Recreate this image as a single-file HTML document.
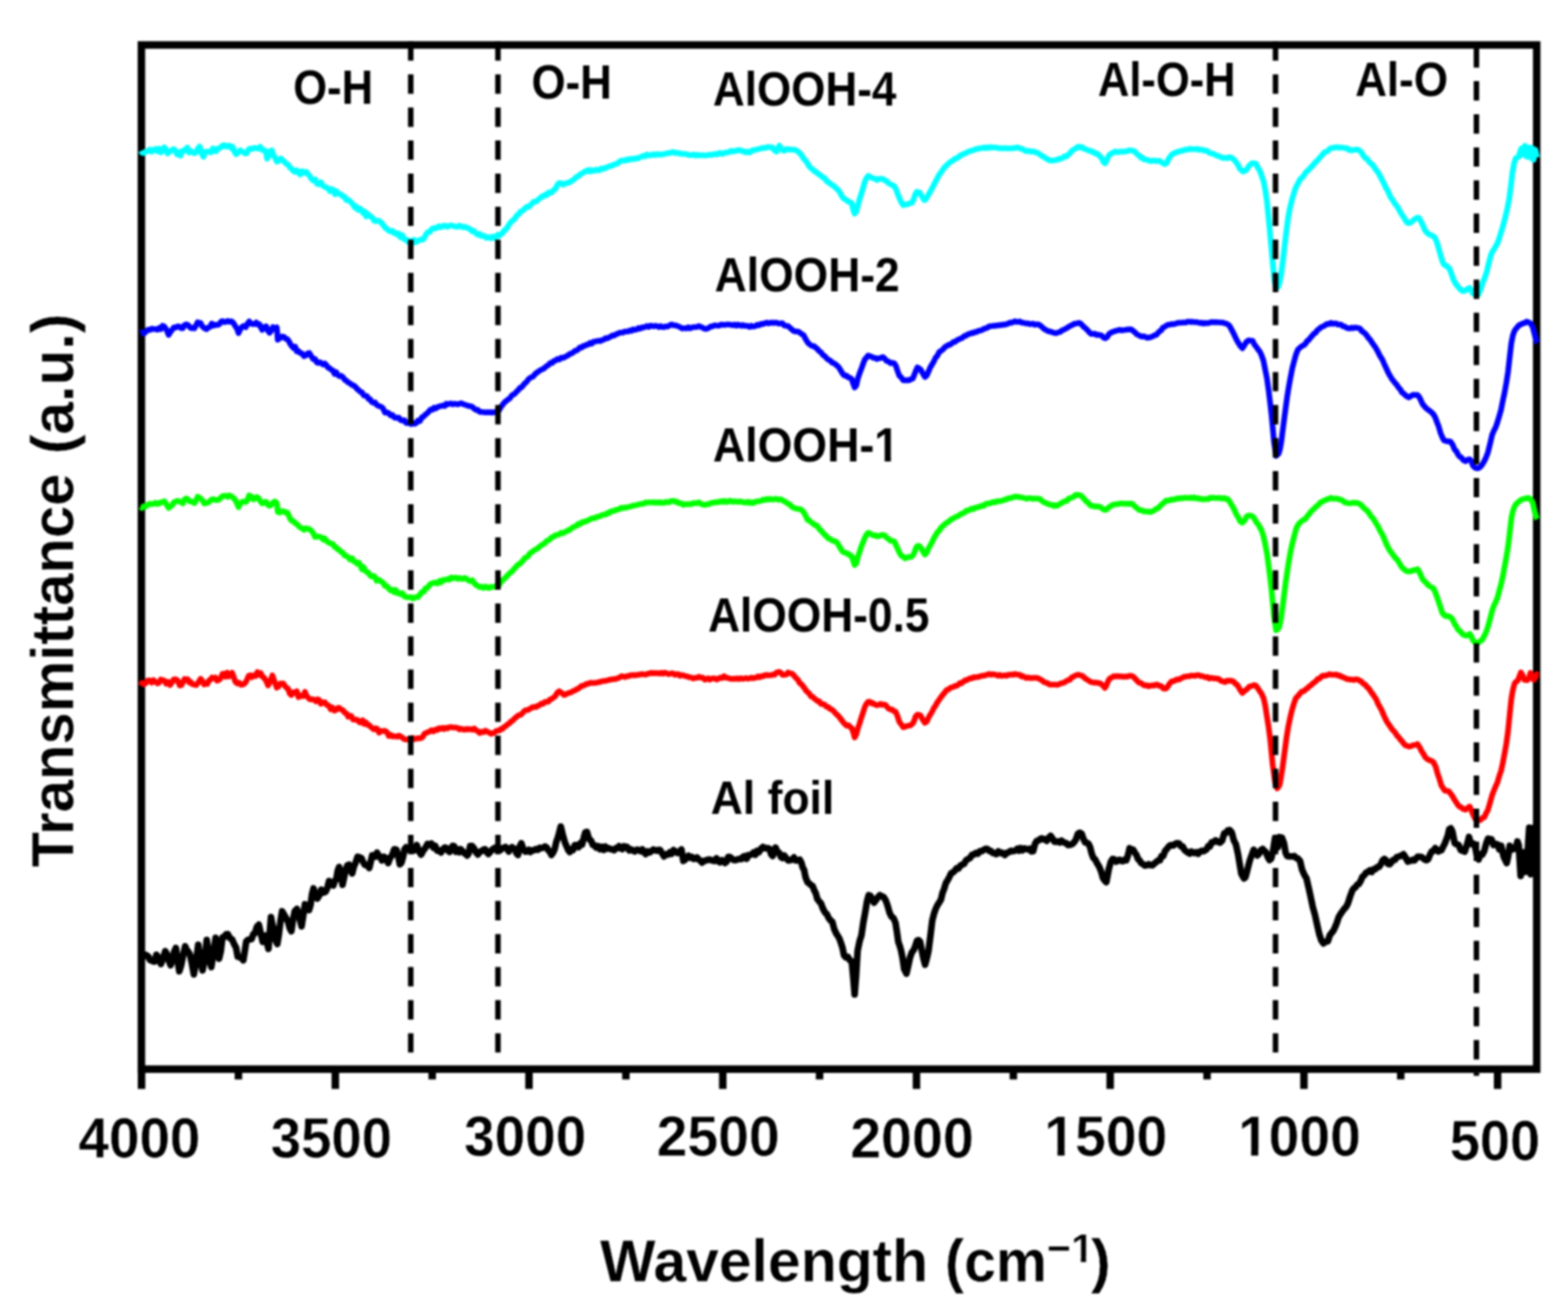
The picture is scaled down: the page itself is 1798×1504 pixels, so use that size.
<!DOCTYPE html>
<html lang="en">
<head>
<meta charset="utf-8">
<title>FTIR spectra</title>
<style>
html,body{margin:0;padding:0;background:#fff;}
body{width:1798px;height:1504px;overflow:hidden;}
svg{display:block;filter:blur(1.0px);}
text{font-family:"Liberation Sans",sans-serif;font-weight:bold;fill:#000;}
.c{fill:none;stroke-linejoin:round;stroke-linecap:butt;}
.d{fill:none;stroke:#000;stroke-width:6.3;stroke-dasharray:22.2 15.7;}
.t{stroke:#000;stroke-width:8.6;}
.lab{font-size:50px;}
.tick{font-size:64px;stroke:#fff;stroke-width:0.5px;}
.ttl{font-size:68px;stroke:#fff;stroke-width:0.4px;}
</style>
</head>
<body>
<svg width="1798" height="1504" viewBox="0 0 1798 1504">
<rect x="0" y="0" width="1798" height="1504" fill="#fff"/>
<rect x="162.15" y="51.55" width="1599.95" height="1174.05" fill="none" stroke="#000" stroke-width="8.6"/>
<line class="t" x1="162.3" y1="1225.6" x2="162.3" y2="1248.3"/>
<line class="t" x1="384.5" y1="1225.6" x2="384.5" y2="1248.3"/>
<line class="t" x1="606.6" y1="1225.6" x2="606.6" y2="1248.3"/>
<line class="t" x1="828.8" y1="1225.6" x2="828.8" y2="1248.3"/>
<line class="t" x1="1050.9" y1="1225.6" x2="1050.9" y2="1248.3"/>
<line class="t" x1="1273.0" y1="1225.6" x2="1273.0" y2="1248.3"/>
<line class="t" x1="1495.2" y1="1225.6" x2="1495.2" y2="1248.3"/>
<line class="t" x1="1717.3" y1="1225.6" x2="1717.3" y2="1248.3"/>
<line class="t" x1="273.4" y1="1225.6" x2="273.4" y2="1237.4"/>
<line class="t" x1="495.6" y1="1225.6" x2="495.6" y2="1237.4"/>
<line class="t" x1="717.7" y1="1225.6" x2="717.7" y2="1237.4"/>
<line class="t" x1="939.8" y1="1225.6" x2="939.8" y2="1237.4"/>
<line class="t" x1="1162.0" y1="1225.6" x2="1162.0" y2="1237.4"/>
<line class="t" x1="1384.1" y1="1225.6" x2="1384.1" y2="1237.4"/>
<line class="t" x1="1606.2" y1="1225.6" x2="1606.2" y2="1237.4"/>
<polyline class="c" stroke="#000000" stroke-width="7.6" points="161.8,1098.7 162.2,1097.5 164.1,1096.8 166.1,1094.3 168.0,1095.1 170.0,1096.4 172.0,1100.5 173.9,1101.3 175.7,1102.1 177.5,1102.2 179.3,1094.5 181.1,1097.0 182.8,1098.8 184.5,1105.0 187.0,1098.6 189.5,1090.3 191.5,1093.9 193.6,1101.1 195.6,1106.5 197.6,1101.0 199.7,1091.0 201.7,1086.7 203.6,1100.8 205.6,1113.4 207.8,1106.3 210.1,1094.8 212.3,1084.8 214.1,1088.8 216.0,1091.2 217.8,1094.3 220.0,1104.5 222.3,1116.9 224.8,1102.7 227.3,1083.1 229.8,1101.9 232.3,1112.3 234.7,1099.4 237.1,1077.5 238.8,1089.2 240.6,1102.5 242.3,1108.6 244.8,1091.7 247.3,1075.0 249.2,1088.7 251.2,1098.9 253.2,1090.4 255.1,1074.6 257.1,1074.3 259.2,1071.0 261.2,1070.9 263.7,1075.4 266.2,1076.9 268.4,1082.2 270.7,1086.3 272.6,1096.7 274.6,1097.3 276.8,1098.0 279.0,1100.8 280.7,1090.4 282.4,1079.1 284.4,1077.4 286.5,1076.8 288.5,1076.5 290.4,1071.0 292.4,1069.7 294.6,1062.4 296.8,1060.1 299.0,1069.9 301.3,1079.7 303.0,1075.0 304.6,1072.4 306.2,1081.0 307.9,1087.7 310.7,1051.2 312.5,1060.6 314.4,1065.8 316.2,1078.3 318.0,1082.1 319.8,1070.8 321.7,1055.4 323.5,1044.7 326.0,1048.9 328.5,1053.3 330.4,1057.1 332.2,1063.9 334.1,1067.5 336.0,1054.2 338.0,1044.5 340.5,1042.1 343.0,1050.6 345.8,1061.8 347.8,1049.1 349.7,1036.6 352.0,1039.5 354.4,1043.3 356.1,1037.4 357.8,1025.0 359.5,1018.4 361.7,1027.4 363.9,1029.9 366.2,1026.2 368.4,1019.8 370.9,1023.2 373.4,1022.2 375.4,1017.9 377.3,1010.0 379.8,1012.0 382.3,1015.0 384.0,1009.4 385.6,1008.1 387.2,998.4 388.9,993.9 390.8,1003.8 392.8,1014.2 394.8,1004.8 396.7,996.2 398.4,991.9 400.1,991.2 402.0,997.6 403.9,1001.2 405.8,993.4 407.8,988.8 410.0,982.1 412.3,982.9 414.5,983.7 416.4,988.3 418.4,991.4 420.9,991.5 423.4,995.0 425.1,988.0 426.8,980.5 428.6,981.3 430.5,982.1 432.3,977.4 434.2,980.7 436.0,982.5 437.9,986.3 440.1,982.1 442.3,983.4 445.1,989.3 447.4,983.2 449.6,980.6 452.1,973.6 454.6,974.0 456.6,981.2 458.5,990.7 460.4,988.8 462.3,981.8 464.0,973.3 465.7,971.4 467.6,973.2 469.6,974.1 471.6,975.3 473.5,975.4 475.7,974.2 477.9,968.8 480.4,975.9 482.9,979.7 485.4,975.0 487.9,971.8 490.2,967.5 492.4,968.6 494.6,966.9 496.9,971.7 499.1,969.7 501.3,975.2 503.5,974.8 505.7,977.2 508.0,973.4 510.2,971.5 512.0,972.4 513.9,975.3 515.7,976.6 517.4,972.0 519.1,969.6 520.9,970.2 522.8,976.3 524.6,973.7 526.5,976.9 528.3,973.6 530.2,975.6 532.1,977.8 533.9,978.9 535.8,980.7 537.4,978.3 539.1,969.8 541.3,969.8 543.5,972.5 545.8,976.9 548.0,979.4 550.1,976.6 552.3,975.5 554.4,973.9 556.3,973.5 558.1,976.8 560.0,978.9 562.2,976.4 564.5,973.9 566.7,972.3 568.5,971.4 570.4,975.4 572.2,972.3 574.1,974.2 575.9,972.3 577.8,972.0 579.7,970.9 581.5,973.3 583.4,976.1 585.2,973.2 587.1,971.2 588.9,972.8 590.6,973.2 592.3,978.3 594.0,980.0 595.9,970.5 597.8,966.7 600.0,973.1 602.3,976.2 604.3,976.1 606.3,974.2 608.3,976.6 610.3,974.8 612.3,974.6 614.5,973.4 616.8,974.2 619.0,971.9 621.2,972.2 623.1,971.5 624.9,970.4 626.8,971.5 628.6,974.6 630.5,976.4 632.3,980.0 634.2,977.5 636.0,973.5 637.9,965.0 639.6,960.4 641.3,954.2 643.0,947.5 645.4,957.4 647.9,966.0 649.7,970.1 651.6,974.6 653.4,976.7 655.3,973.5 657.1,974.4 659.0,968.9 661.2,968.9 663.5,971.1 665.7,966.5 667.5,968.2 669.4,960.3 671.2,954.2 673.0,953.7 675.4,961.5 677.9,964.0 679.8,968.5 681.6,969.0 683.5,971.6 685.7,969.9 688.0,973.5 690.2,970.8 692.4,974.3 694.4,970.5 696.4,972.9 698.4,972.5 700.4,973.3 702.4,974.0 704.3,974.6 706.1,972.4 708.0,972.4 709.8,970.1 711.7,972.5 713.6,973.4 715.4,970.1 717.2,970.8 719.1,970.8 721.3,974.7 723.6,973.6 725.8,975.1 728.0,976.1 730.2,974.0 732.4,974.5 734.6,975.8 736.6,973.7 738.5,976.7 740.4,979.0 742.4,975.9 744.6,977.2 746.9,975.7 749.1,973.9 751.0,974.5 753.0,975.2 755.0,974.4 756.9,974.4 759.1,978.0 761.4,981.7 763.6,979.3 765.8,979.8 768.0,977.1 770.2,978.8 772.4,974.5 774.7,976.1 776.9,977.8 779.2,976.4 781.4,973.8 783.6,986.8 785.6,985.5 787.5,983.0 789.4,981.0 791.4,983.4 793.4,982.4 795.3,984.7 797.2,984.1 799.2,982.9 801.2,985.4 803.1,986.6 805.0,988.8 807.0,986.7 809.2,986.6 811.4,985.5 813.6,985.3 815.6,986.1 817.6,986.7 819.6,987.0 821.6,983.9 823.6,987.2 825.6,988.5 827.5,986.0 829.4,986.4 831.4,989.2 833.3,987.8 835.1,982.2 837.0,982.5 839.2,984.3 841.5,986.0 843.7,985.9 845.9,985.2 848.1,984.5 850.3,984.8 852.2,982.0 854.2,981.3 856.2,984.4 858.1,980.2 860.1,980.1 862.1,979.2 864.1,977.4 866.1,979.8 868.1,975.5 870.3,976.8 872.6,973.0 874.8,970.9 877.0,972.5 878.9,972.2 880.7,972.3 882.6,973.4 884.2,979.1 885.9,981.3 887.6,977.9 889.3,971.6 891.5,976.6 893.7,977.8 895.6,982.6 897.4,983.5 899.3,980.7 901.5,983.6 903.8,986.4 906.0,986.0 908.2,985.5 910.4,982.9 912.6,986.4 914.9,986.3 917.1,985.5 918.8,988.5 920.4,994.3 922.0,997.1 923.7,1005.5 926.0,1011.3 928.2,1013.0 930.1,1014.8 931.9,1015.8 933.8,1020.9 935.4,1023.8 937.1,1030.3 939.3,1033.4 941.5,1035.7 943.2,1040.5 944.9,1044.0 946.6,1046.7 948.3,1048.2 950.0,1052.0 952.2,1055.0 954.4,1056.8 956.6,1065.1 958.9,1070.1 960.8,1073.0 962.6,1076.2 964.5,1081.5 966.2,1086.9 967.8,1095.0 970.0,1097.7 972.2,1096.9 974.4,1100.7 976.7,1102.1 978.4,1120.4 980.0,1139.9 981.7,1118.1 983.4,1090.0 985.6,1079.2 987.8,1072.3 990.0,1057.3 992.3,1044.7 994.2,1033.2 996.1,1026.2 998.2,1027.1 1000.2,1031.2 1002.3,1034.7 1004.5,1031.8 1006.8,1028.4 1009.0,1026.1 1011.2,1027.5 1013.4,1028.5 1015.6,1032.1 1017.8,1038.3 1020.1,1046.5 1022.3,1050.8 1024.6,1052.6 1026.8,1057.7 1028.4,1067.7 1030.1,1079.7 1031.8,1084.5 1033.4,1090.2 1035.1,1098.9 1036.8,1110.9 1039.4,1116.1 1041.4,1107.5 1043.4,1098.1 1045.6,1091.7 1047.9,1088.7 1049.7,1084.2 1051.6,1078.1 1053.4,1077.7 1055.1,1079.6 1056.8,1088.6 1058.8,1098.2 1060.8,1105.8 1062.7,1098.8 1064.6,1090.7 1066.8,1073.6 1069.0,1055.4 1070.9,1047.8 1072.7,1042.5 1074.6,1038.3 1076.8,1034.7 1079.0,1031.2 1080.7,1023.8 1082.4,1019.6 1084.6,1012.3 1086.8,1008.7 1088.7,1005.2 1090.5,1001.2 1092.4,1000.3 1094.6,998.4 1096.9,995.3 1099.1,995.7 1101.3,992.3 1103.5,991.1 1105.7,990.0 1107.9,986.0 1110.2,984.7 1112.4,983.4 1114.6,980.0 1116.8,979.5 1119.0,977.8 1121.3,978.7 1123.5,975.9 1125.7,975.8 1128.0,974.3 1130.2,973.0 1132.4,973.3 1134.4,975.5 1136.3,975.6 1138.2,977.7 1140.2,978.0 1142.4,979.1 1144.7,975.9 1146.9,978.0 1148.7,977.4 1150.6,978.8 1152.4,980.1 1154.6,977.6 1156.9,976.8 1159.1,975.3 1160.9,975.7 1162.8,975.5 1164.6,974.8 1166.5,973.1 1168.4,975.1 1170.2,972.2 1172.4,974.6 1174.6,972.5 1176.9,973.3 1179.1,973.8 1181.0,972.9 1182.8,976.0 1184.7,975.8 1186.9,967.3 1188.9,963.9 1190.8,963.6 1192.8,961.8 1194.7,961.0 1196.6,962.1 1198.4,962.0 1200.3,963.9 1202.5,960.4 1204.7,958.2 1206.9,961.3 1209.2,964.9 1211.4,965.0 1213.4,964.6 1215.3,965.8 1217.2,963.7 1219.2,965.3 1221.0,966.1 1222.9,966.7 1224.7,968.7 1226.9,968.5 1229.2,967.7 1231.4,965.9 1233.6,962.7 1235.9,955.9 1238.1,954.5 1240.3,955.8 1242.5,962.0 1244.4,965.8 1246.2,966.0 1248.1,967.2 1250.0,971.2 1251.8,978.3 1253.7,983.4 1255.9,985.3 1258.1,989.8 1260.3,993.3 1262.6,998.8 1264.8,1006.6 1266.7,1009.4 1268.6,1011.2 1271.5,996.0 1273.7,988.1 1275.9,984.6 1277.9,985.1 1279.8,987.8 1281.8,986.5 1283.7,985.5 1285.6,986.8 1287.6,987.2 1289.6,985.5 1291.5,986.2 1293.4,980.5 1295.3,972.4 1297.4,973.9 1299.4,974.1 1301.5,977.7 1303.2,980.1 1304.8,984.6 1306.8,986.4 1308.7,989.5 1310.6,990.5 1312.6,992.2 1314.8,992.0 1317.1,990.7 1319.3,991.8 1321.5,991.9 1323.8,989.7 1326.0,988.1 1328.2,986.2 1330.1,986.2 1331.9,981.2 1333.8,981.4 1336.0,975.5 1338.2,973.0 1340.1,970.5 1341.9,969.1 1343.8,968.9 1345.9,969.1 1347.9,967.2 1350.0,966.6 1352.0,966.9 1354.1,970.1 1356.1,970.2 1358.1,974.1 1360.2,976.0 1362.2,977.4 1364.2,978.5 1366.1,976.2 1368.1,977.3 1370.0,977.9 1372.0,976.9 1374.0,978.7 1375.9,976.4 1377.9,975.2 1379.8,975.8 1381.8,974.8 1383.6,973.6 1385.5,969.9 1387.4,970.3 1389.2,965.8 1391.6,965.2 1394.0,963.3 1396.4,965.0 1398.9,966.0 1401.4,963.6 1403.8,955.3 1405.9,954.8 1407.9,951.9 1410.0,951.5 1412.4,954.3 1414.8,963.3 1417.2,967.9 1419.7,979.5 1421.6,990.9 1423.4,1001.7 1424.9,1004.3 1426.4,1006.9 1428.0,1005.8 1429.5,1000.6 1431.4,992.9 1433.2,986.0 1435.4,980.2 1437.6,974.1 1439.7,978.1 1441.8,980.6 1443.8,978.6 1445.9,974.5 1447.9,973.2 1449.8,975.3 1451.6,976.9 1453.6,982.2 1455.7,986.0 1457.6,984.3 1459.6,976.4 1462.1,960.5 1465.0,971.5 1467.0,959.7 1469.9,960.2 1472.4,966.9 1474.2,977.6 1476.0,981.3 1478.0,981.8 1480.1,981.7 1482.1,981.8 1484.2,981.4 1486.2,983.5 1488.3,984.2 1490.8,987.1 1493.2,997.3 1495.6,1002.6 1498.1,1006.9 1500.5,1017.2 1502.9,1028.0 1505.4,1040.0 1507.8,1048.5 1510.2,1059.4 1512.7,1070.5 1515.2,1078.1 1517.6,1081.4 1520.1,1079.7 1522.6,1079.0 1525.0,1071.8 1527.0,1069.3 1529.1,1066.8 1531.1,1062.4 1533.1,1057.3 1535.2,1050.9 1537.2,1047.7 1539.4,1044.6 1541.5,1041.7 1543.6,1039.6 1545.8,1035.2 1548.2,1027.5 1550.7,1020.7 1552.5,1018.2 1554.4,1017.0 1556.2,1014.2 1558.0,1013.5 1560.2,1009.9 1562.3,1005.1 1564.4,1003.3 1566.6,1000.3 1568.7,999.5 1570.8,997.7 1573.0,999.5 1575.1,996.2 1577.2,996.4 1579.2,994.0 1581.3,993.7 1583.3,990.9 1585.4,986.2 1587.4,984.6 1589.4,986.0 1591.5,990.3 1593.5,990.7 1595.5,988.4 1597.6,985.7 1599.6,985.8 1601.6,982.6 1603.5,982.0 1605.5,981.3 1607.4,980.6 1609.4,979.3 1611.8,983.1 1614.3,987.7 1616.2,986.6 1618.1,986.8 1620.0,985.6 1621.9,986.3 1623.8,984.0 1625.7,982.0 1627.6,982.3 1629.6,982.2 1631.6,983.6 1633.6,985.2 1635.6,986.1 1637.6,985.0 1639.6,980.1 1641.8,975.9 1644.0,975.3 1645.8,972.3 1647.6,974.3 1649.4,976.1 1651.2,974.6 1652.9,974.6 1654.7,970.8 1656.5,967.5 1658.3,962.9 1660.1,958.2 1661.8,950.6 1663.6,949.6 1665.4,953.0 1668.1,966.6 1670.3,967.8 1672.5,968.6 1675.2,974.6 1677.4,975.3 1679.6,976.3 1682.3,967.9 1684.5,959.4 1686.0,964.9 1687.6,967.7 1689.4,967.0 1691.2,969.2 1693.9,982.5 1695.6,985.2 1697.4,979.4 1699.6,979.8 1701.9,975.7 1704.5,966.1 1706.3,961.3 1708.1,961.8 1710.3,962.2 1712.5,968.6 1714.8,967.4 1717.0,968.0 1719.2,973.5 1721.4,969.6 1724.1,981.7 1725.9,985.7 1727.7,989.4 1729.4,981.6 1731.2,969.5 1733.0,973.4 1734.8,973.7 1736.6,972.7 1738.4,970.9 1740.0,964.6 1741.5,969.0 1743.7,1004.1 1746.4,977.0 1749.0,999.5 1751.7,977.3 1753.5,948.7 1755.3,1002.1 1757.5,949.4 1759.7,1000.0 1761.9,962.4 1762.6,963.4"/>
<polyline class="c" stroke="#ff0000" stroke-width="6.5" points="161.8,785.9 162.8,782.9 165.0,784.5 167.2,783.1 169.5,780.0 171.7,779.9 173.9,782.5 176.1,779.7 178.4,781.8 180.6,783.5 182.6,782.4 184.5,778.9 186.4,779.7 188.4,780.2 190.6,783.8 192.8,781.7 195.0,785.3 197.1,782.4 199.1,779.0 201.2,778.6 203.7,780.3 206.2,785.8 208.0,785.5 209.8,782.2 211.6,778.3 213.4,779.2 215.2,778.6 217.0,782.4 218.8,781.8 220.6,784.4 222.8,784.9 225.1,785.4 227.3,782.5 230.1,778.1 232.0,780.8 234.0,784.6 235.8,783.1 237.7,784.0 239.5,780.2 241.4,779.2 243.2,776.6 245.1,777.5 247.0,776.6 248.8,780.3 250.7,779.7 252.9,777.6 255.1,772.5 257.0,772.2 258.8,775.9 260.6,771.0 262.5,775.4 264.3,773.7 266.2,771.3 268.1,776.2 269.9,781.7 271.8,783.4 274.0,782.6 276.2,784.9 278.5,784.7 280.7,783.3 282.9,780.1 285.1,774.8 287.0,774.0 288.8,776.4 290.7,774.2 293.0,775.0 295.2,770.5 297.1,773.5 299.0,771.7 301.0,775.9 302.9,776.9 305.2,780.5 307.4,785.8 309.9,781.0 312.4,774.2 314.9,781.7 317.4,788.3 319.3,787.1 321.1,783.8 323.0,783.5 324.8,783.5 326.7,786.4 328.5,788.4 330.4,789.6 332.2,795.1 334.1,796.7 336.3,793.5 338.5,794.2 340.4,792.4 342.2,799.3 344.1,797.0 346.0,798.1 347.8,798.0 349.7,793.1 351.5,797.7 353.3,799.6 355.1,801.6 356.9,801.8 358.8,801.5 360.6,802.5 362.4,804.0 364.3,801.6 366.2,802.8 368.0,806.8 370.2,805.3 372.5,805.1 374.7,808.2 376.9,808.7 379.2,813.1 381.4,811.3 383.6,814.6 385.5,813.7 387.3,811.5 389.2,811.6 391.2,813.4 393.2,814.0 395.2,817.0 397.2,817.7 399.2,821.5 401.0,820.4 402.9,820.9 404.8,824.7 406.6,825.0 408.4,824.9 410.3,825.6 412.2,827.9 414.0,828.4 415.8,825.7 417.7,829.8 419.6,828.2 421.4,830.9 423.2,831.1 425.1,833.2 427.0,834.7 428.8,836.1 430.6,834.7 432.5,835.5 434.7,839.8 437.0,838.1 439.2,838.1 441.4,837.7 443.6,839.3 445.9,843.7 448.1,842.3 450.0,844.3 451.8,843.9 453.6,844.1 455.5,844.5 457.4,843.2 459.2,844.2 461.4,845.6 463.7,847.4 465.9,847.7 467.8,847.5 469.6,846.9 471.5,846.7 473.4,845.9 475.4,847.3 477.4,846.7 479.3,846.2 481.1,846.4 483.0,846.0 484.8,844.7 486.7,841.1 488.5,840.3 490.4,839.5 492.6,838.6 494.8,837.0 497.1,838.4 499.3,836.3 501.3,837.0 503.3,834.7 505.2,835.5 507.2,834.3 509.2,835.8 511.2,834.2 513.1,835.1 515.1,833.8 517.1,833.4 519.0,833.9 521.0,834.1 522.9,834.1 524.8,834.5 526.8,836.1 528.7,835.2 530.7,836.1 532.6,836.6 534.5,835.5 536.3,836.2 538.2,835.8 540.1,835.9 541.9,836.6 543.8,835.2 545.9,837.2 547.9,838.1 550.0,840.3 552.2,838.7 554.5,839.4 556.7,837.5 558.9,838.9 561.1,839.8 563.3,841.2 565.2,840.5 567.0,839.9 568.9,838.0 570.8,837.6 572.6,837.5 574.5,835.4 576.4,835.5 578.3,833.1 580.2,832.2 582.1,830.4 584.0,829.3 585.9,827.1 587.8,826.3 589.8,823.8 591.7,822.4 593.6,820.7 595.6,819.6 597.6,819.2 599.5,817.0 601.4,814.8 603.4,814.1 605.4,813.9 607.3,812.8 609.2,811.6 611.2,810.4 613.2,810.3 615.1,810.4 617.0,808.9 619.0,808.3 620.9,806.4 622.9,806.7 624.8,804.8 626.8,804.4 628.7,804.5 630.6,801.8 632.6,801.3 634.5,799.8 636.7,798.1 639.0,794.0 641.2,792.3 643.1,793.8 644.9,794.8 646.8,796.8 648.9,796.0 650.9,794.8 653.0,794.2 655.0,793.6 657.1,792.2 659.1,791.6 661.2,790.1 663.1,789.4 664.9,788.0 666.8,786.3 668.7,786.2 670.5,785.3 672.4,784.0 674.3,783.9 676.3,782.8 678.2,782.7 680.2,783.1 682.1,782.8 684.0,782.7 686.0,782.0 687.9,782.0 689.8,780.9 691.7,780.8 693.6,780.5 695.6,780.3 697.5,779.6 699.4,779.1 701.3,779.0 703.2,778.4 705.1,778.6 707.0,777.9 708.9,777.4 710.8,776.4 712.7,775.1 714.6,775.5 716.6,776.2 718.6,775.0 720.6,775.2 722.6,773.9 724.6,774.2 726.6,773.7 728.6,774.3 730.6,773.6 732.6,773.6 734.6,772.9 736.6,772.7 738.6,773.1 740.5,773.4 742.5,772.3 744.5,772.2 746.5,771.2 748.4,771.9 750.4,771.5 752.4,771.9 754.4,771.4 756.4,772.2 758.3,771.2 760.3,772.3 762.3,771.0 764.3,771.7 766.2,772.7 768.2,772.5 770.2,771.8 772.1,772.1 774.0,773.6 775.9,772.9 777.9,772.7 779.8,774.8 781.7,773.9 783.6,774.1 785.5,775.1 787.4,775.2 789.3,776.2 791.2,776.3 793.1,776.8 795.0,777.7 796.9,776.9 799.2,777.1 801.4,775.8 803.6,776.8 805.9,776.8 808.1,779.1 810.0,778.4 812.0,777.6 813.9,779.1 815.8,777.9 817.8,777.6 819.7,777.8 821.7,779.0 823.6,778.0 825.8,776.8 828.1,777.3 830.3,775.1 832.5,777.0 834.8,777.1 837.0,778.1 839.2,778.3 841.2,778.0 843.3,778.3 845.3,777.6 847.3,778.5 849.3,777.4 851.4,778.2 853.4,777.9 855.4,777.3 857.4,778.1 859.5,777.6 861.5,776.7 863.4,777.6 865.4,776.9 867.3,776.8 869.2,775.3 871.2,776.4 873.1,775.0 875.1,775.3 877.0,773.9 878.9,773.7 880.7,774.3 882.6,774.1 884.5,774.0 886.3,773.2 888.2,773.6 890.0,771.2 891.9,770.4 893.7,770.2 895.6,771.6 897.4,773.7 899.3,773.6 901.5,773.3 903.7,770.9 905.9,771.9 908.2,772.3 910.4,774.2 912.6,777.1 914.9,779.1 917.1,783.2 919.0,784.3 920.8,786.7 922.6,788.9 924.5,791.9 926.4,793.8 928.2,795.3 930.0,798.3 931.9,798.7 933.8,800.9 935.6,802.0 937.4,803.7 939.3,803.8 941.4,807.0 943.6,807.1 945.7,807.9 947.9,810.2 950.0,810.5 951.8,812.7 953.7,813.3 955.6,814.8 957.4,816.9 959.2,818.9 961.1,820.3 963.0,822.9 965.0,825.4 967.0,828.0 968.9,830.2 970.8,831.9 972.8,831.3 974.8,833.3 976.7,834.7 978.4,839.3 980.0,845.4 981.9,841.7 983.7,834.9 985.6,829.5 987.6,822.9 989.6,817.0 991.6,810.6 993.6,806.8 995.6,804.4 997.6,804.4 999.6,806.4 1001.6,806.2 1003.6,807.8 1005.6,808.4 1007.6,807.8 1009.5,806.8 1011.4,808.0 1013.4,807.6 1015.3,808.0 1017.1,810.2 1019.0,812.4 1021.0,813.3 1022.9,813.2 1024.8,815.2 1026.8,815.7 1029.0,820.5 1031.2,827.3 1033.4,830.3 1035.7,833.7 1037.7,833.1 1039.7,832.4 1041.7,831.7 1043.7,831.7 1045.7,830.3 1047.8,827.6 1049.8,821.4 1051.9,819.2 1053.8,819.4 1055.7,820.4 1058.2,825.2 1060.6,828.6 1062.7,827.3 1064.7,822.7 1066.8,819.1 1068.8,815.9 1070.8,811.7 1072.8,808.9 1074.8,805.0 1076.8,802.5 1079.0,799.1 1081.2,796.4 1083.5,793.6 1085.7,790.8 1087.6,790.5 1089.4,788.7 1091.2,787.9 1093.1,787.6 1095.0,786.3 1096.8,786.3 1098.8,784.9 1100.7,782.9 1102.6,783.3 1104.6,781.6 1106.6,779.8 1108.5,779.8 1110.4,778.6 1112.4,777.5 1114.4,777.7 1116.3,776.2 1118.2,776.5 1120.2,776.1 1122.2,776.0 1124.1,775.1 1126.0,774.7 1128.0,774.6 1130.2,774.0 1132.4,773.2 1134.6,772.6 1136.6,773.6 1138.5,772.8 1140.4,773.3 1142.4,773.6 1144.4,774.7 1146.3,773.6 1148.2,774.8 1150.2,774.5 1152.2,774.1 1154.1,774.7 1156.0,773.5 1158.0,773.5 1160.0,773.1 1161.9,773.6 1163.8,772.5 1165.8,773.3 1167.6,773.4 1169.5,773.4 1171.4,775.5 1173.2,775.1 1175.1,776.4 1176.9,777.2 1178.8,776.5 1180.7,777.4 1182.6,777.1 1184.6,777.3 1186.5,776.9 1188.4,777.1 1190.3,777.5 1192.5,778.6 1194.7,779.8 1196.9,781.7 1199.0,782.6 1201.0,783.0 1203.1,784.5 1205.1,784.9 1207.2,784.7 1209.2,784.8 1211.1,784.9 1213.0,785.0 1214.9,784.1 1216.8,783.3 1218.7,782.8 1220.6,782.3 1222.5,781.1 1224.6,779.8 1226.6,779.4 1228.7,776.7 1230.8,775.7 1232.9,774.5 1234.9,773.8 1237.0,773.5 1239.2,774.3 1241.5,774.9 1243.7,777.3 1245.9,778.6 1248.2,780.1 1250.4,781.6 1252.6,782.2 1254.8,782.6 1257.0,782.5 1259.3,783.1 1261.5,783.2 1263.3,784.7 1265.2,786.4 1267.0,788.6 1268.9,785.3 1270.7,780.6 1272.6,777.7 1274.8,776.7 1277.1,775.1 1279.3,775.6 1281.2,774.9 1283.0,775.5 1284.8,775.2 1286.7,775.4 1288.6,776.0 1290.4,775.4 1292.6,775.8 1294.9,774.8 1297.1,774.7 1299.3,775.6 1301.6,777.8 1303.8,780.2 1306.0,782.6 1307.8,782.7 1309.7,784.1 1311.6,785.5 1313.4,785.9 1315.2,785.5 1317.1,786.8 1319.1,786.0 1321.1,785.6 1323.1,786.0 1325.1,785.0 1327.1,784.7 1329.3,786.3 1331.6,786.5 1333.8,789.1 1336.0,789.6 1338.0,788.4 1339.9,785.6 1341.8,782.8 1343.8,781.0 1345.9,780.8 1347.9,779.7 1350.0,778.7 1352.0,778.9 1353.9,777.7 1355.9,776.9 1357.8,775.8 1359.8,775.7 1361.9,775.2 1364.0,775.2 1366.1,774.4 1368.2,774.4 1370.3,774.9 1372.4,773.9 1374.5,773.9 1376.5,774.9 1378.6,775.1 1380.6,775.8 1382.6,776.5 1384.7,776.1 1386.7,777.9 1388.5,777.0 1390.4,777.4 1392.2,777.8 1394.0,777.7 1395.9,778.0 1397.7,778.5 1400.2,780.5 1402.6,781.1 1404.8,781.9 1406.9,780.3 1409.0,780.5 1411.2,780.2 1413.0,780.6 1414.8,781.6 1416.7,783.8 1418.5,784.8 1420.5,788.1 1422.6,791.6 1424.6,794.4 1426.7,792.3 1428.7,790.8 1430.8,789.2 1432.6,787.2 1434.4,786.6 1436.3,786.1 1438.1,785.3 1440.1,785.8 1442.2,788.8 1444.2,791.8 1446.6,795.2 1449.1,800.9 1450.9,809.3 1452.8,821.4 1454.6,832.8 1456.5,847.4 1459.4,876.9 1462.1,896.8 1464.5,903.8 1466.0,902.2 1467.5,899.1 1470.4,881.7 1472.0,869.7 1473.6,857.8 1475.4,844.3 1477.3,832.8 1479.1,824.0 1480.9,816.2 1483.4,807.5 1485.8,800.6 1488.2,798.1 1490.7,795.0 1492.8,792.8 1495.0,792.4 1497.2,790.3 1499.3,788.9 1501.3,786.8 1503.2,785.7 1505.2,783.6 1507.1,782.3 1509.1,780.7 1511.1,778.3 1513.0,778.1 1515.0,775.8 1516.9,774.5 1518.9,774.8 1520.8,774.1 1522.8,773.7 1524.7,772.7 1526.7,773.5 1528.6,773.4 1530.6,773.5 1532.5,773.2 1534.5,774.6 1536.4,774.3 1538.4,776.1 1540.4,776.2 1542.3,777.4 1544.3,778.4 1546.2,778.5 1548.2,779.0 1550.4,778.9 1552.5,779.6 1554.6,778.6 1556.8,778.9 1559.0,780.2 1561.1,781.2 1563.2,783.8 1565.4,784.7 1567.5,787.5 1569.6,789.3 1571.8,792.7 1573.9,795.5 1576.1,798.8 1578.2,801.9 1580.4,807.2 1582.5,810.9 1584.5,814.5 1586.4,819.2 1588.4,823.5 1590.3,827.3 1592.3,830.3 1594.3,832.9 1596.2,835.9 1598.2,838.0 1600.1,840.3 1602.1,843.4 1603.9,845.2 1605.8,847.9 1607.6,849.6 1609.4,852.2 1611.4,854.3 1613.5,855.0 1615.5,855.8 1618.0,855.5 1620.4,854.2 1622.8,853.9 1625.3,852.9 1627.8,856.6 1630.2,861.3 1632.2,864.1 1634.3,868.0 1636.3,869.9 1638.2,871.1 1640.0,871.7 1641.8,872.4 1643.7,873.7 1646.2,878.7 1648.6,887.4 1650.6,892.8 1652.7,900.2 1654.7,903.4 1656.8,906.4 1659.0,906.5 1661.1,906.9 1663.2,909.6 1665.6,912.8 1668.1,917.2 1670.0,920.0 1671.8,922.9 1673.6,924.7 1675.5,925.4 1678.0,927.5 1680.4,928.2 1682.8,926.2 1685.3,924.6 1687.1,928.5 1688.9,933.4 1691.4,938.4 1693.8,940.9 1695.8,940.4 1697.9,939.8 1699.9,937.5 1702.0,936.8 1704.0,932.4 1706.1,928.7 1708.6,920.2 1711.0,911.5 1713.0,906.3 1715.1,901.3 1717.1,896.8 1719.1,889.8 1721.2,883.7 1723.2,874.7 1725.2,864.1 1727.3,852.2 1729.3,837.8 1731.2,818.6 1733.0,801.4 1734.8,790.8 1736.7,783.7 1738.5,781.3 1740.3,780.4 1742.2,775.6 1744.0,770.9 1745.8,773.7 1747.7,779.2 1749.5,779.5 1751.3,779.7 1753.2,777.3 1755.0,771.3 1756.8,775.6 1758.7,779.4 1760.5,776.8 1762.3,772.8 1762.6,773.5"/>
<polyline class="c" stroke="#00ff00" stroke-width="6.5" points="161.8,580.9 162.8,582.3 165.0,580.2 167.2,580.7 169.5,578.6 171.7,577.4 173.9,578.0 176.1,577.6 178.4,576.3 180.6,577.8 182.6,577.0 184.5,575.7 186.4,575.8 188.4,574.7 190.9,578.1 193.4,582.3 195.4,580.5 197.5,579.0 199.5,575.7 201.7,574.9 203.9,574.2 205.8,575.1 207.6,575.4 209.5,577.1 211.4,572.7 213.4,571.3 215.4,572.5 217.3,574.8 219.2,574.7 221.0,575.6 222.9,576.7 224.8,573.7 226.7,569.3 228.4,570.8 230.1,571.3 231.8,573.2 234.3,577.2 236.8,576.5 238.8,576.0 240.9,574.3 242.9,572.5 245.1,572.3 247.3,573.3 249.5,573.2 251.4,572.6 253.2,570.5 255.1,568.8 257.1,568.4 259.1,568.2 261.1,569.6 263.1,567.8 265.1,568.8 267.6,570.8 270.1,573.5 271.8,577.1 273.5,581.4 275.4,577.5 277.4,575.5 279.6,574.9 281.8,575.5 283.8,573.2 285.7,567.9 288.0,569.5 290.2,572.4 292.0,571.8 293.8,569.7 295.6,570.3 297.4,572.5 299.0,575.1 300.7,577.1 303.0,575.6 305.2,575.3 307.2,578.8 309.1,579.9 311.0,578.6 313.0,576.1 315.2,574.9 317.4,576.8 318.5,586.9 320.8,587.6 323.0,586.0 325.2,586.1 327.4,587.7 329.6,587.6 331.3,591.2 333.0,595.1 334.8,597.2 336.7,597.5 338.5,599.9 340.4,600.5 342.2,602.9 344.1,604.5 346.3,605.7 348.6,607.4 350.8,605.5 352.8,606.4 354.7,606.6 356.9,608.2 359.1,611.1 361.3,615.6 363.2,615.3 365.0,614.9 366.9,615.4 368.8,616.2 370.6,618.6 372.5,617.2 374.4,620.2 376.2,621.4 378.0,622.7 379.9,623.1 381.8,623.8 383.6,626.8 385.5,627.3 387.3,629.8 389.2,630.6 391.2,632.8 393.2,633.7 395.2,636.9 397.2,637.3 399.2,638.7 401.4,641.4 403.6,639.9 405.8,643.6 407.7,644.0 409.5,646.2 411.4,644.9 413.3,648.4 415.1,652.7 417.0,650.3 418.8,654.2 420.7,655.8 422.6,656.7 424.4,659.7 426.2,660.8 428.1,660.0 430.0,661.5 431.8,665.8 433.6,664.4 435.5,665.6 437.4,666.8 439.2,667.9 441.4,671.7 443.6,671.8 445.9,674.8 448.1,676.9 450.0,676.0 451.8,678.7 453.6,676.2 455.5,679.9 457.4,679.8 459.2,681.2 461.4,679.8 463.7,683.7 465.9,684.3 467.8,684.8 469.6,684.8 471.5,684.6 473.4,686.2 475.4,685.1 477.4,684.2 479.3,684.4 481.5,681.7 483.7,678.8 485.9,678.4 487.8,674.4 489.8,674.3 491.8,671.5 493.7,669.3 495.8,668.7 497.8,667.9 499.8,667.7 501.9,668.8 504.0,665.9 506.0,667.5 507.9,664.7 509.8,665.1 511.7,664.5 513.6,663.6 515.5,664.4 517.4,662.0 519.3,663.0 521.2,662.2 523.1,662.3 525.0,663.6 526.9,662.6 528.8,663.3 530.7,663.7 532.6,662.6 534.8,663.4 537.0,665.3 539.3,666.2 541.5,665.1 543.6,668.1 545.8,670.6 547.9,671.6 550.0,673.0 552.2,672.5 554.4,674.0 556.7,672.3 558.9,673.8 560.8,674.0 562.6,672.8 564.4,673.0 566.3,672.6 568.2,672.0 570.0,672.3 572.2,670.8 574.4,667.1 576.7,664.9 578.9,663.0 580.8,660.7 582.7,659.0 584.6,656.9 586.6,655.5 588.5,653.4 590.4,651.3 592.3,649.1 594.2,647.2 596.1,646.6 598.0,644.2 599.9,642.4 601.8,639.6 603.7,639.0 605.6,637.3 607.6,634.4 609.5,633.0 611.4,631.8 613.4,630.2 615.4,629.4 617.3,627.8 619.2,626.3 621.2,624.7 623.2,623.8 625.2,622.1 627.1,619.9 629.1,619.5 631.1,617.5 633.1,615.7 635.0,615.3 637.0,613.4 639.0,613.1 641.2,612.7 643.4,610.7 645.7,611.2 647.9,610.0 649.8,608.9 651.7,607.7 653.6,607.3 655.5,605.5 657.4,604.1 659.3,603.5 661.2,602.6 663.1,600.6 665.0,601.0 666.9,598.7 668.9,598.8 670.8,597.5 672.7,597.4 674.6,596.4 676.6,595.4 678.6,594.2 680.5,593.9 682.5,593.9 684.5,592.5 686.5,592.2 688.4,591.7 690.4,590.3 692.4,590.1 694.4,590.0 696.4,588.1 698.3,588.3 700.3,586.4 702.3,585.8 704.3,585.7 706.2,584.4 708.2,584.2 710.2,583.7 712.2,582.1 714.2,582.6 716.1,581.7 718.1,582.0 720.1,581.2 722.1,580.9 724.0,580.3 726.0,579.5 728.0,579.6 730.0,579.0 732.0,578.3 733.9,577.8 735.9,577.8 737.9,577.5 739.9,576.1 741.8,576.3 743.8,575.8 745.8,576.1 747.7,576.0 749.7,575.6 751.6,576.5 753.6,575.8 755.5,576.6 757.4,575.6 759.4,576.6 761.3,576.6 763.2,575.3 765.0,575.7 766.9,576.0 768.8,574.5 770.6,574.4 772.5,574.1 774.4,575.4 776.2,575.0 778.0,576.8 779.9,576.9 781.8,577.2 783.6,578.8 785.4,578.1 787.3,577.9 789.2,577.7 791.0,577.9 792.8,578.0 794.7,576.7 796.9,576.8 799.2,576.9 801.4,575.8 803.6,577.6 805.9,578.4 808.1,578.8 810.3,578.1 812.6,578.1 814.8,576.8 817.0,576.2 819.0,576.2 821.0,575.4 822.9,575.9 824.9,575.1 826.9,574.5 828.9,575.5 830.8,574.1 832.8,575.5 834.8,575.1 836.7,574.0 838.6,574.5 840.5,575.3 842.4,574.7 844.3,574.9 846.2,575.5 848.1,574.8 850.0,574.9 851.9,575.8 853.8,576.1 855.8,576.2 857.7,575.1 859.6,576.7 861.5,575.7 863.7,576.7 866.0,575.2 868.2,574.7 870.4,574.7 872.6,574.2 874.8,572.8 877.1,573.2 879.3,571.9 881.2,572.8 883.1,571.8 885.0,572.5 886.9,572.5 888.8,571.8 890.7,572.2 892.6,572.9 894.8,572.2 897.0,573.3 899.3,574.7 901.5,575.8 903.7,577.4 906.0,578.7 908.2,581.1 910.4,582.2 912.6,583.0 914.8,583.4 917.1,583.6 919.3,584.7 921.5,587.0 923.8,591.2 926.0,596.0 927.8,596.5 929.7,598.2 931.6,599.7 933.4,601.0 935.2,602.3 937.1,602.7 939.2,606.1 941.4,608.3 943.6,610.7 945.7,613.1 947.8,614.8 950.0,617.3 952.0,617.9 954.0,619.4 956.0,620.4 958.0,620.5 960.0,622.0 962.2,626.0 964.5,629.8 966.7,632.7 968.7,633.4 970.7,634.5 972.7,634.8 974.7,636.9 976.7,637.4 978.4,643.0 980.0,647.6 981.9,645.7 983.7,638.1 985.6,632.8 987.6,626.4 989.6,621.7 991.6,616.7 993.6,612.8 995.6,610.7 997.6,611.7 999.6,612.8 1001.6,613.8 1003.6,613.5 1005.6,614.9 1007.8,614.6 1010.1,613.4 1012.3,613.3 1014.5,613.7 1016.8,616.5 1019.0,617.8 1021.2,619.9 1023.4,620.0 1025.6,620.8 1027.5,625.2 1029.3,628.9 1031.2,633.1 1033.4,636.9 1035.7,638.1 1037.9,640.1 1040.1,639.0 1042.4,638.5 1044.6,638.5 1046.8,636.8 1048.5,633.6 1050.2,628.5 1051.9,625.9 1053.8,625.7 1055.7,627.4 1058.2,631.8 1060.6,635.7 1062.7,633.3 1064.7,628.8 1066.8,625.0 1068.8,621.3 1070.8,617.0 1072.8,613.7 1074.8,610.3 1076.8,608.6 1079.0,604.8 1081.2,603.1 1083.5,600.8 1085.7,599.2 1087.6,598.1 1089.4,596.5 1091.2,595.0 1093.1,594.4 1095.0,593.0 1096.8,592.3 1098.7,591.5 1100.6,590.1 1102.5,589.0 1104.5,588.2 1106.4,587.2 1108.3,585.3 1110.2,585.3 1112.2,584.3 1114.1,583.0 1116.0,583.8 1118.0,582.1 1120.0,582.1 1121.9,581.0 1123.8,580.8 1125.8,579.7 1128.0,580.0 1130.2,577.7 1132.4,577.3 1134.6,577.2 1136.6,576.3 1138.5,575.6 1140.4,576.0 1142.4,575.0 1144.4,574.5 1146.3,574.5 1148.2,574.2 1150.2,573.6 1152.2,572.6 1154.1,572.6 1156.0,571.2 1158.0,570.9 1160.0,570.9 1161.9,569.9 1163.8,569.3 1165.8,569.5 1167.6,569.4 1169.5,570.1 1171.4,570.2 1173.2,570.6 1175.1,570.9 1176.9,571.7 1178.8,571.4 1180.7,570.9 1182.6,571.4 1184.6,571.9 1186.5,571.5 1188.4,571.5 1190.3,571.7 1192.5,572.0 1194.8,574.1 1197.0,575.8 1199.2,576.6 1201.0,577.4 1202.9,578.1 1204.8,578.8 1206.6,578.8 1208.4,580.0 1210.3,579.0 1212.2,579.8 1214.0,578.6 1215.8,577.4 1217.7,576.4 1219.6,575.3 1221.4,574.2 1223.4,574.2 1225.3,571.9 1227.2,570.8 1229.2,570.3 1231.2,569.3 1233.1,567.5 1235.0,567.2 1237.0,567.4 1239.2,567.9 1241.5,570.2 1243.7,572.4 1245.6,574.8 1247.6,576.1 1249.5,578.4 1251.4,579.9 1253.4,580.0 1255.4,580.7 1257.5,580.3 1259.5,581.0 1261.5,581.1 1263.5,582.5 1265.5,584.1 1267.5,584.6 1269.6,583.5 1271.6,581.4 1273.7,580.2 1275.7,578.8 1277.8,578.4 1279.8,578.0 1281.8,578.0 1283.9,577.2 1285.9,577.3 1287.8,577.3 1289.6,577.6 1291.5,577.3 1293.4,577.5 1295.2,577.8 1297.1,577.0 1299.3,578.5 1301.6,580.8 1303.8,582.6 1306.0,584.4 1307.8,585.0 1309.7,584.9 1311.6,586.3 1313.4,586.2 1315.2,586.6 1317.1,586.5 1319.3,587.0 1321.6,586.0 1323.8,584.8 1326.0,583.2 1327.8,582.7 1329.7,580.7 1331.6,578.7 1333.4,577.2 1335.2,575.6 1337.1,573.8 1339.2,574.2 1341.4,573.4 1343.6,572.6 1345.7,572.8 1347.8,572.2 1350.0,571.2 1351.9,571.7 1353.8,570.9 1355.7,571.3 1357.6,570.7 1359.5,570.5 1361.4,570.8 1363.3,571.0 1365.2,570.2 1367.1,571.3 1369.2,570.1 1371.3,571.4 1373.4,570.9 1375.5,572.1 1377.6,571.8 1379.7,572.6 1381.8,572.1 1383.8,571.9 1385.7,572.3 1387.7,570.6 1389.6,570.8 1391.6,570.6 1393.7,571.1 1395.8,571.1 1397.9,570.6 1400.0,571.3 1402.1,571.6 1404.2,570.8 1406.3,572.3 1408.1,572.3 1409.9,574.8 1411.8,578.3 1413.6,581.0 1415.6,584.9 1417.7,589.7 1419.7,592.7 1422.2,597.7 1424.6,599.1 1427.0,596.7 1429.5,591.9 1432.0,590.9 1434.4,591.1 1436.4,592.1 1438.5,594.6 1440.5,598.7 1442.6,600.7 1444.6,604.4 1446.7,608.1 1448.8,614.8 1450.8,624.0 1452.8,634.3 1454.7,648.4 1456.4,661.9 1458.2,677.6 1460.9,707.1 1463.3,722.5 1466.2,720.4 1467.7,715.4 1469.2,706.9 1470.8,695.0 1472.4,682.3 1474.2,668.2 1476.0,655.8 1477.8,643.9 1479.7,633.1 1481.9,622.8 1484.1,614.4 1486.2,606.2 1488.3,601.9 1490.4,599.2 1492.6,597.5 1494.7,595.8 1496.8,594.9 1498.8,592.1 1500.7,589.9 1502.7,587.2 1504.6,585.0 1506.6,583.5 1508.6,581.1 1510.5,579.8 1512.5,577.9 1514.4,575.6 1516.4,575.1 1518.4,573.8 1520.3,573.2 1522.3,572.1 1524.2,571.9 1526.2,570.6 1528.2,571.6 1530.1,571.8 1532.1,571.3 1534.0,571.8 1536.0,572.7 1538.0,572.9 1539.9,573.9 1541.9,576.0 1543.8,576.4 1545.8,576.8 1547.8,577.0 1549.7,576.6 1551.7,576.2 1553.6,576.6 1555.6,576.5 1557.6,576.9 1559.5,578.0 1561.5,579.6 1563.4,581.8 1565.4,583.6 1567.3,585.2 1569.3,587.4 1571.2,590.3 1573.2,593.2 1575.1,594.9 1577.1,598.7 1579.0,601.5 1581.0,605.1 1582.9,609.2 1584.9,612.3 1587.1,617.0 1589.2,622.5 1591.4,627.0 1593.5,631.0 1595.6,633.6 1597.8,636.6 1599.9,639.6 1602.1,641.5 1603.9,644.4 1605.8,647.4 1607.6,650.4 1609.4,651.9 1611.4,653.8 1613.5,655.0 1615.5,654.9 1618.0,655.0 1620.4,653.6 1622.8,653.6 1625.3,652.4 1627.3,655.2 1629.4,659.8 1631.4,664.2 1633.4,666.3 1635.5,668.2 1637.5,670.6 1639.6,672.1 1641.6,673.4 1643.7,674.4 1645.7,678.7 1647.8,684.4 1649.8,690.1 1651.8,696.2 1653.9,702.7 1655.9,705.1 1657.7,706.3 1659.6,705.8 1661.4,706.9 1663.2,707.2 1665.6,710.1 1668.1,715.5 1670.0,717.9 1671.8,721.6 1673.6,723.0 1675.5,725.1 1678.0,727.6 1680.4,728.6 1682.8,728.4 1685.3,726.7 1687.1,729.5 1688.9,733.7 1691.4,736.4 1693.8,738.0 1695.8,736.0 1697.9,734.8 1699.9,732.9 1702.0,729.0 1704.0,724.8 1706.1,718.7 1708.6,709.6 1711.0,700.1 1713.0,694.4 1715.1,690.1 1717.1,685.2 1719.1,677.4 1721.2,670.0 1723.2,660.8 1725.2,650.0 1727.3,638.6 1729.3,626.4 1731.2,610.3 1733.0,594.5 1734.8,585.9 1736.7,580.7 1738.5,577.7 1740.4,576.4 1742.2,574.4 1744.0,573.3 1746.2,572.3 1748.3,571.6 1750.4,571.2 1752.6,570.8 1755.0,572.1 1757.5,576.1 1759.9,586.9 1762.3,594.7 1762.6,595.2"/>
<polyline class="c" stroke="#0000ff" stroke-width="6.5" points="161.8,381.9 162.8,380.9 165.0,382.5 167.2,380.4 169.5,378.0 171.7,378.2 173.9,376.8 176.1,377.2 178.4,377.2 180.6,378.0 182.6,375.9 184.5,377.2 186.4,373.4 188.4,374.2 190.9,378.0 193.4,383.9 195.4,380.5 197.5,377.9 199.5,375.2 201.7,375.4 203.9,374.1 205.8,374.5 207.6,376.3 209.5,376.3 211.4,372.9 213.4,371.8 215.4,372.4 217.3,374.7 219.2,376.3 221.0,375.7 222.9,376.5 224.8,373.0 226.7,369.3 228.4,370.7 230.1,370.3 231.8,373.8 234.3,376.2 236.8,377.4 238.8,375.3 240.9,374.8 242.9,370.8 245.1,373.3 247.3,372.2 249.5,372.6 251.4,371.8 253.2,368.9 255.1,368.0 257.1,369.3 259.1,368.8 261.1,367.8 263.1,368.9 265.1,368.2 267.6,370.1 270.1,374.4 271.8,376.7 273.5,381.8 275.4,377.6 277.4,374.8 279.6,373.5 281.8,375.1 283.8,371.2 285.7,368.5 288.0,371.1 290.2,371.6 292.0,371.6 293.8,369.7 295.6,372.1 297.4,371.6 299.0,375.0 300.7,378.2 303.0,374.9 305.2,374.1 307.2,379.0 309.1,381.5 311.0,379.2 313.0,375.0 315.2,376.9 317.4,375.3 318.5,389.5 320.8,387.8 323.0,385.8 325.2,385.9 327.4,388.1 329.6,388.9 331.3,391.2 333.0,394.6 334.8,396.9 336.7,399.1 338.5,397.5 340.4,402.8 342.2,402.3 344.1,404.6 346.3,405.2 348.6,408.4 350.8,407.3 352.8,405.1 354.7,404.6 356.9,408.3 359.1,411.7 361.3,411.4 363.2,415.5 365.0,416.1 366.9,415.2 368.8,416.6 370.6,417.9 372.5,416.7 374.4,418.7 376.2,421.4 378.0,422.1 379.9,423.9 381.8,424.8 383.6,428.5 385.5,426.6 387.3,429.8 389.2,431.2 391.2,430.8 393.2,432.3 395.2,435.3 397.2,436.4 399.2,438.4 401.4,439.4 403.6,441.2 405.8,442.1 407.7,443.6 409.5,445.9 411.4,447.4 413.3,449.2 415.1,449.9 417.0,453.1 418.8,453.8 420.7,454.0 422.6,457.6 424.4,457.6 426.2,460.7 428.1,461.8 430.0,461.3 431.8,464.0 433.6,465.1 435.5,465.8 437.4,466.5 439.2,468.2 441.4,472.9 443.6,472.7 445.9,473.8 448.1,476.3 450.0,475.7 451.8,478.2 453.6,479.0 455.5,478.8 457.4,478.8 459.2,481.5 461.4,482.2 463.7,481.7 465.9,484.9 467.8,485.1 469.6,485.0 471.5,486.2 473.4,484.5 475.4,486.0 477.4,484.9 479.3,482.1 481.5,482.7 483.7,478.5 485.9,477.4 487.8,475.2 489.8,473.9 491.8,471.6 493.7,469.5 495.8,469.8 497.8,467.3 499.8,468.3 501.9,466.5 504.0,465.8 506.0,465.4 507.9,464.8 509.8,465.5 511.7,462.9 513.6,463.4 515.5,462.8 517.4,462.5 519.3,463.6 521.2,462.8 523.1,463.1 525.0,463.6 526.9,462.6 528.8,462.3 530.7,463.1 532.6,463.8 534.8,464.3 537.0,465.4 539.3,465.5 541.5,466.3 543.6,468.3 545.8,469.9 547.9,469.8 550.0,472.2 552.2,472.3 554.4,472.4 556.7,472.9 558.9,472.5 560.8,472.7 562.6,472.4 564.4,473.1 566.3,472.5 568.2,472.5 570.0,471.1 572.2,470.5 574.4,466.6 576.7,463.5 578.9,460.8 580.8,459.4 582.7,457.8 584.6,456.7 586.6,453.6 588.5,452.3 590.4,451.4 592.3,448.8 594.2,447.4 596.1,444.7 598.0,444.1 599.9,441.7 601.8,439.4 603.7,438.0 605.6,435.2 607.6,433.4 609.5,432.4 611.4,431.5 613.4,428.9 615.4,427.3 617.3,426.0 619.2,424.6 621.2,423.6 623.2,422.8 625.2,421.0 627.1,419.5 629.1,418.2 631.1,416.1 633.1,416.1 635.0,413.8 637.0,413.5 639.0,411.6 641.2,412.2 643.4,409.9 645.7,410.2 647.9,409.2 649.8,408.2 651.7,407.2 653.6,405.6 655.5,405.1 657.4,403.9 659.3,402.2 661.2,401.8 663.1,400.4 665.0,398.3 666.9,398.6 668.9,396.4 670.8,396.6 672.7,395.0 674.6,395.0 676.6,393.0 678.6,394.0 680.5,391.7 682.5,391.6 684.5,391.0 686.5,390.6 688.4,391.1 690.4,389.8 692.4,389.4 694.4,387.6 696.4,387.9 698.3,386.9 700.3,385.9 702.3,384.5 704.3,384.8 706.2,383.3 708.2,382.6 710.2,381.5 712.2,381.3 714.2,381.2 716.1,380.3 718.1,379.9 720.1,380.1 722.1,378.8 724.0,379.3 726.0,377.5 728.0,378.2 730.0,377.7 732.0,376.1 733.9,376.8 735.9,375.3 737.9,375.4 739.9,374.7 741.8,373.7 743.8,374.8 745.8,373.3 747.7,373.6 749.7,374.1 751.6,373.5 753.6,373.9 755.5,374.9 757.4,373.7 759.4,374.8 761.3,375.0 763.2,374.1 765.0,374.4 766.9,373.7 768.8,372.2 770.6,372.1 772.5,372.9 774.4,372.9 776.2,373.5 778.0,374.3 779.9,375.0 781.8,376.4 783.6,376.2 785.4,376.3 787.3,376.4 789.2,375.1 791.0,376.4 792.8,375.7 794.7,374.9 796.9,375.0 799.2,374.7 801.4,373.8 803.6,374.7 805.9,375.7 808.1,377.0 810.3,376.9 812.6,376.0 814.8,374.3 817.0,374.2 819.0,372.9 821.0,373.1 822.9,373.4 824.9,373.3 826.9,372.0 828.9,372.3 830.8,372.6 832.8,372.1 834.8,371.9 836.7,372.1 838.6,372.5 840.5,372.9 842.4,372.0 844.3,373.4 846.2,372.1 848.1,372.9 850.0,373.5 851.9,372.5 853.8,373.6 855.8,373.4 857.7,373.8 859.6,374.8 861.5,373.4 863.7,374.4 866.0,373.9 868.2,372.2 870.4,373.0 872.6,371.2 874.8,371.5 877.1,370.3 879.3,369.8 881.2,370.7 883.1,370.1 885.0,369.7 886.9,370.3 888.8,369.8 890.7,369.9 892.6,370.9 894.8,370.8 897.0,370.4 899.3,373.1 901.5,373.5 903.7,373.8 906.0,375.9 908.2,377.9 910.4,379.6 912.6,380.1 914.8,379.9 917.1,381.3 919.3,382.9 921.5,384.3 923.8,388.7 926.0,392.4 927.8,394.2 929.7,395.7 931.6,396.8 933.4,396.7 935.2,398.6 937.1,399.8 939.2,402.3 941.4,403.9 943.6,406.9 945.7,408.3 947.8,410.6 950.0,412.5 952.0,413.2 954.0,415.6 956.0,416.3 958.0,417.6 960.0,419.2 962.2,421.5 964.5,425.6 966.7,429.1 968.7,430.7 970.7,430.6 972.7,432.6 974.7,433.2 976.7,434.7 978.4,439.9 980.0,444.2 981.9,441.9 983.7,433.7 985.6,428.1 987.6,423.0 989.6,417.4 991.6,412.2 993.6,409.8 995.6,407.5 997.6,408.2 999.6,409.0 1001.6,410.3 1003.6,410.2 1005.6,411.6 1007.8,410.7 1010.1,410.3 1012.3,409.2 1014.5,411.0 1016.8,413.9 1019.0,414.4 1021.2,416.4 1023.4,415.9 1025.6,416.6 1027.5,419.9 1029.3,425.5 1031.2,430.7 1033.4,432.5 1035.7,436.0 1037.9,436.0 1040.1,435.8 1042.4,435.9 1044.6,434.6 1046.8,433.9 1048.5,429.4 1050.2,425.1 1051.9,421.2 1053.8,422.2 1055.7,423.6 1058.2,428.2 1060.6,432.2 1062.7,430.5 1064.7,425.9 1066.8,421.0 1068.8,417.7 1070.8,414.3 1072.8,410.0 1074.8,407.9 1076.8,403.8 1079.0,402.3 1081.2,400.6 1083.5,397.9 1085.7,396.7 1087.6,395.3 1089.4,395.3 1091.2,393.8 1093.1,392.1 1095.0,392.0 1096.8,390.4 1098.7,389.4 1100.6,388.5 1102.5,387.8 1104.5,386.3 1106.4,385.0 1108.3,384.5 1110.2,382.9 1112.2,382.7 1114.1,381.6 1116.0,381.9 1118.0,380.5 1120.0,380.5 1121.9,379.3 1123.8,379.0 1125.8,378.4 1128.0,377.0 1130.2,376.4 1132.4,375.5 1134.6,373.9 1136.6,374.0 1138.5,373.4 1140.4,373.8 1142.4,372.9 1144.4,373.3 1146.3,372.5 1148.2,372.8 1150.2,372.0 1152.2,372.2 1154.1,371.5 1156.0,371.0 1158.0,369.8 1160.0,369.9 1161.9,369.2 1163.8,368.3 1165.8,369.1 1167.6,368.9 1169.5,368.4 1171.4,369.8 1173.2,370.0 1175.1,370.4 1176.9,370.9 1178.8,370.6 1180.7,371.6 1182.6,371.4 1184.6,371.0 1186.5,372.3 1188.4,372.0 1190.3,371.7 1192.5,372.9 1194.8,374.7 1197.0,376.9 1199.2,378.1 1201.0,379.2 1202.9,379.9 1204.8,380.0 1206.6,381.0 1208.4,381.4 1210.3,382.0 1212.2,381.6 1214.0,380.8 1215.8,380.4 1217.7,378.8 1219.6,378.0 1221.4,377.1 1223.4,376.0 1225.3,374.7 1227.2,373.6 1229.2,372.7 1231.2,371.5 1233.1,371.0 1235.0,370.6 1237.0,370.1 1239.2,370.8 1241.5,373.5 1243.7,375.5 1245.6,377.1 1247.6,379.2 1249.5,381.4 1251.4,382.8 1253.4,382.8 1255.4,382.5 1257.5,384.0 1259.5,383.7 1261.5,384.1 1263.5,384.8 1265.5,387.1 1267.5,387.8 1269.6,386.4 1271.6,382.9 1273.7,381.5 1275.7,380.5 1277.8,379.8 1279.8,379.1 1281.8,378.8 1283.9,378.0 1285.9,378.8 1287.8,378.4 1289.6,378.3 1291.5,378.1 1293.4,377.5 1295.2,377.8 1297.1,377.5 1299.3,379.3 1301.6,381.1 1303.8,383.4 1306.0,384.4 1307.8,385.4 1309.7,385.9 1311.6,385.5 1313.4,386.2 1315.2,387.3 1317.1,387.1 1319.3,386.5 1321.6,385.7 1323.8,384.4 1326.0,383.8 1327.8,381.7 1329.7,379.8 1331.6,378.7 1333.4,375.5 1335.2,374.9 1337.1,373.5 1339.2,372.2 1341.4,372.2 1343.6,371.4 1345.7,371.7 1347.8,371.1 1350.0,370.3 1351.9,370.0 1353.8,370.1 1355.7,369.8 1357.6,369.7 1359.5,369.8 1361.4,368.8 1363.3,368.7 1365.2,369.2 1367.1,368.8 1369.2,369.3 1371.3,369.3 1373.4,369.5 1375.5,370.3 1377.6,369.8 1379.7,371.0 1381.8,370.1 1383.8,370.6 1385.7,370.2 1387.7,369.8 1389.6,369.1 1391.6,369.5 1393.7,369.2 1395.8,369.4 1397.9,369.6 1400.0,369.7 1402.1,369.7 1404.2,370.6 1406.3,371.0 1408.1,372.0 1409.9,373.6 1411.8,377.1 1413.6,380.4 1415.6,384.5 1417.7,389.0 1419.7,392.6 1422.2,396.5 1424.6,399.2 1427.0,395.6 1429.5,391.5 1432.0,390.1 1434.4,390.6 1436.4,390.8 1438.5,395.1 1440.5,397.5 1442.6,400.6 1444.6,403.0 1446.7,407.6 1448.8,413.6 1450.8,423.8 1452.8,433.7 1454.7,447.3 1456.4,461.3 1458.2,477.3 1460.9,506.4 1463.3,522.6 1466.2,520.0 1467.7,515.0 1469.2,506.8 1470.8,494.2 1472.4,481.7 1474.2,468.0 1476.0,454.7 1477.8,443.5 1479.7,433.2 1481.9,421.9 1484.1,413.5 1486.2,405.9 1488.3,400.8 1490.4,398.7 1492.6,396.9 1494.7,395.9 1496.8,394.2 1498.8,391.0 1500.7,389.7 1502.7,387.1 1504.6,385.0 1506.6,382.4 1508.6,381.5 1510.5,378.5 1512.5,377.3 1514.4,375.4 1516.4,374.4 1518.4,373.6 1520.3,372.2 1522.3,371.2 1524.2,371.4 1526.2,370.0 1528.2,371.3 1530.1,370.8 1532.1,370.7 1534.0,372.1 1536.0,372.0 1538.0,372.3 1539.9,374.0 1541.9,374.2 1543.8,375.7 1545.8,376.3 1547.8,376.6 1549.7,375.6 1551.7,376.3 1553.6,375.4 1555.6,375.7 1557.6,376.2 1559.5,376.7 1561.5,379.5 1563.4,380.8 1565.4,382.3 1567.3,384.6 1569.3,387.6 1571.2,389.5 1573.2,392.7 1575.1,395.3 1577.1,398.0 1579.0,401.3 1581.0,405.2 1582.9,408.9 1584.9,411.8 1587.1,416.8 1589.2,421.3 1591.4,426.2 1593.5,430.2 1595.6,433.7 1597.8,436.6 1599.9,439.3 1602.1,441.7 1603.9,444.6 1605.8,446.4 1607.6,449.9 1609.4,450.9 1611.4,453.0 1613.5,454.5 1615.5,455.5 1618.0,453.9 1620.4,452.6 1622.8,452.8 1625.3,452.7 1627.3,455.0 1629.4,459.1 1631.4,463.5 1633.4,465.7 1635.5,468.1 1637.5,469.6 1639.6,471.1 1641.6,472.7 1643.7,474.9 1645.7,478.4 1647.8,484.0 1649.8,489.1 1651.8,496.1 1653.9,501.3 1655.9,504.9 1657.7,505.4 1659.6,506.0 1661.4,505.8 1663.2,506.2 1665.6,509.6 1668.1,515.5 1670.0,517.2 1671.8,520.8 1673.6,523.3 1675.5,524.3 1678.0,527.4 1680.4,528.8 1682.8,527.0 1685.3,526.5 1687.1,528.4 1688.9,533.6 1691.4,536.1 1693.8,536.9 1695.8,536.6 1697.9,534.8 1699.9,532.2 1702.0,528.6 1704.0,524.4 1706.1,518.9 1708.6,508.9 1711.0,498.5 1713.0,493.8 1715.1,489.8 1717.1,483.9 1719.1,477.2 1721.2,469.8 1723.2,459.7 1725.2,450.5 1727.3,438.8 1729.3,425.9 1731.2,408.8 1733.0,393.5 1734.8,384.4 1736.7,379.1 1738.5,376.6 1740.4,374.5 1742.2,372.5 1744.0,371.9 1746.2,370.6 1748.3,370.3 1750.4,368.7 1752.6,369.4 1755.0,370.6 1757.5,374.7 1759.9,384.0 1762.3,392.5 1762.6,392.7"/>
<polyline class="c" stroke="#00ffff" stroke-width="6.5" points="161.8,172.8 162.8,175.0 165.0,175.5 167.2,173.8 169.5,173.3 171.7,171.5 173.9,173.9 176.1,172.1 178.4,170.7 180.6,173.4 182.6,170.4 184.5,174.7 186.4,172.2 188.4,168.9 190.2,171.3 192.1,176.0 193.9,173.7 195.8,173.5 197.6,171.4 199.5,171.0 201.4,173.5 203.2,177.2 205.1,174.4 207.0,178.5 209.0,173.0 210.9,173.3 212.8,171.3 214.8,169.2 216.7,174.8 218.6,173.2 220.6,174.6 222.7,175.7 224.8,174.4 226.9,170.3 229.0,167.9 231.2,176.2 233.4,179.7 235.4,173.9 237.3,173.7 239.5,173.9 241.8,174.6 244.0,170.2 245.8,173.3 247.7,173.6 249.5,170.2 251.4,170.2 253.2,168.8 255.1,166.8 257.1,166.3 259.1,168.2 261.1,167.4 263.1,166.8 265.1,169.8 267.0,168.5 268.8,173.8 270.7,176.9 273.2,174.3 275.7,172.3 278.2,174.1 280.7,175.8 282.9,175.8 285.1,171.2 287.3,170.2 289.6,170.8 291.8,169.5 294.0,169.9 296.2,170.4 298.4,168.3 300.7,171.9 302.9,172.0 304.6,173.0 306.3,181.9 308.1,178.9 310.0,173.3 311.8,172.5 313.7,178.3 315.5,181.0 317.4,185.3 319.6,184.4 321.9,181.7 324.1,183.6 326.3,185.7 328.5,188.0 330.4,188.8 332.2,191.7 334.1,193.2 336.1,195.8 338.1,197.1 340.1,195.2 342.1,197.6 344.1,200.0 346.3,196.2 348.6,198.2 350.8,196.8 352.8,198.8 354.9,201.3 356.9,204.8 359.1,207.0 361.4,205.6 363.6,210.8 365.8,211.2 368.0,208.9 370.2,212.9 372.5,214.4 374.7,215.0 376.6,216.4 378.5,219.3 380.4,216.7 382.3,218.1 384.2,222.7 386.1,219.4 388.0,222.0 389.9,222.5 391.7,223.4 393.6,225.6 395.5,225.8 397.3,229.5 399.2,228.9 401.1,230.5 403.0,232.4 404.9,234.6 406.8,237.9 408.7,236.9 410.6,240.6 412.5,238.8 414.4,240.6 416.2,244.1 418.0,242.4 419.9,248.1 421.8,245.3 423.6,247.2 425.5,248.5 427.3,249.8 429.2,253.2 431.1,253.4 432.9,252.8 434.8,253.5 436.6,254.6 438.5,256.8 440.4,259.1 442.2,261.6 444.0,262.5 445.9,264.5 447.8,265.2 449.7,264.6 451.6,267.2 453.5,266.8 455.4,268.9 457.3,267.7 459.2,272.0 461.4,269.6 463.6,274.4 465.9,274.6 468.1,277.4 471.0,275.9 473.0,278.6 475.0,275.0 477.0,277.6 479.0,276.3 480.9,275.5 482.8,274.4 484.8,274.7 486.7,272.6 488.5,268.7 490.4,266.3 492.6,266.1 494.8,263.0 497.1,261.4 499.3,261.7 501.2,260.9 503.2,259.3 505.1,260.5 507.0,259.7 509.0,258.4 510.9,259.1 512.9,260.1 514.8,258.8 516.8,258.3 518.8,259.1 520.7,259.2 522.7,259.8 524.7,260.1 526.7,258.6 528.6,259.4 530.6,260.6 532.6,259.7 534.8,260.9 537.0,261.7 539.3,262.9 541.5,265.2 543.6,264.8 545.8,267.5 547.9,269.0 550.0,268.0 551.9,270.5 553.8,270.4 555.7,270.4 557.6,272.7 559.5,272.1 561.4,271.9 563.3,273.2 565.2,271.2 567.0,272.6 568.9,271.4 570.8,269.2 572.6,270.1 574.5,268.2 576.4,267.1 578.2,264.1 580.0,263.2 581.9,260.5 583.8,257.4 585.6,255.0 587.4,253.1 589.3,251.8 591.2,249.4 593.0,246.5 594.8,245.8 596.7,242.6 598.6,242.1 600.5,240.4 602.4,238.4 604.4,236.9 606.3,237.2 608.2,235.1 610.1,233.4 612.0,231.3 613.9,231.2 615.8,230.3 617.7,228.4 619.6,227.1 621.5,224.9 623.4,225.1 625.3,223.0 627.2,223.6 629.1,220.6 631.1,220.7 633.0,220.5 634.9,217.6 636.8,216.7 639.0,212.2 641.2,209.7 643.4,210.2 645.7,211.8 647.6,210.2 649.6,210.0 651.5,209.5 653.4,208.9 655.4,207.2 657.3,206.5 659.3,204.6 661.2,202.6 663.1,202.1 664.9,200.3 666.8,199.0 668.7,198.2 670.5,196.5 672.4,196.5 674.2,195.0 676.1,196.7 678.0,194.8 679.8,196.1 681.6,195.7 683.5,194.3 685.5,195.3 687.5,195.2 689.4,193.0 691.4,193.8 693.4,192.7 695.4,192.1 697.3,191.1 699.3,190.5 701.3,190.0 703.2,189.1 705.1,188.3 707.0,188.1 708.9,186.8 710.8,184.9 712.7,184.1 714.6,184.1 716.5,184.4 718.4,182.7 720.3,183.5 722.3,182.1 724.2,182.6 726.1,181.9 728.0,182.3 730.0,181.2 732.0,181.4 733.9,180.2 735.9,179.5 737.9,178.4 739.9,179.3 741.8,177.1 743.8,177.9 745.8,178.1 747.7,177.4 749.7,176.8 751.6,177.9 753.6,176.5 755.5,177.3 757.4,177.1 759.4,177.2 761.3,176.4 763.5,176.3 765.8,175.4 768.0,175.5 770.2,174.6 772.1,174.2 774.0,175.4 775.9,175.3 777.9,175.3 779.8,176.3 781.7,176.0 783.6,176.6 785.6,176.5 787.6,176.8 789.7,177.7 791.7,177.8 793.7,177.8 795.7,177.0 797.7,178.5 799.7,177.3 801.8,178.2 803.8,177.9 805.8,177.8 807.8,178.2 809.9,178.2 811.9,177.7 813.9,177.3 815.9,177.7 818.0,177.1 820.0,176.4 822.0,177.2 824.0,175.7 826.1,175.3 828.1,176.6 830.1,175.7 832.1,174.7 834.1,174.9 836.1,174.2 838.1,172.9 840.1,173.9 842.1,172.9 844.1,173.2 846.1,172.0 848.1,172.0 850.3,173.2 852.6,173.3 854.8,174.7 857.0,173.6 858.8,174.9 860.7,174.3 862.6,172.4 864.4,172.0 866.2,172.0 868.1,171.4 870.0,170.8 872.0,170.3 874.0,169.6 875.9,169.8 877.8,169.6 879.8,168.5 881.8,168.4 883.7,169.2 885.9,169.0 888.2,172.4 890.4,173.9 892.0,170.3 893.7,166.9 895.4,169.6 897.1,172.1 899.3,172.8 901.6,170.7 903.8,171.6 906.0,171.2 908.2,171.7 910.4,171.4 912.6,172.2 914.8,173.5 917.0,175.4 919.3,178.1 921.5,181.7 923.7,184.0 926.0,187.3 928.2,191.2 930.4,193.2 932.2,194.4 934.1,196.5 936.0,197.0 937.8,199.1 939.6,200.3 941.5,201.3 943.6,203.5 945.8,204.3 947.9,207.7 950.0,209.2 951.8,210.0 953.7,212.0 955.6,212.7 957.4,214.5 959.2,216.2 961.1,217.7 963.3,221.0 965.6,225.3 967.8,228.0 970.0,228.8 972.2,230.7 974.5,231.8 976.7,232.7 978.4,240.7 980.0,244.9 981.9,242.7 983.7,235.6 985.6,228.4 987.6,222.2 989.6,215.8 991.6,208.3 993.6,204.0 995.6,201.5 997.6,202.6 999.6,203.7 1001.6,204.4 1003.6,205.0 1005.6,206.4 1007.8,205.1 1010.1,205.0 1012.3,205.0 1014.5,206.7 1016.8,207.8 1019.0,209.9 1021.2,211.3 1023.4,212.2 1025.6,213.7 1027.5,217.0 1029.3,222.2 1031.2,226.6 1033.4,231.8 1035.7,235.2 1037.7,234.3 1039.7,234.6 1041.7,233.5 1043.7,232.7 1045.7,232.5 1047.5,228.9 1049.4,223.0 1051.2,219.8 1052.9,220.2 1054.6,220.8 1056.4,224.1 1058.3,227.1 1060.1,229.4 1062.0,227.9 1063.8,224.6 1065.7,221.4 1067.9,217.6 1070.2,213.3 1072.4,208.8 1074.6,204.9 1076.8,200.5 1079.0,197.8 1081.3,194.1 1083.5,191.4 1085.4,189.6 1087.3,187.8 1089.2,186.2 1091.1,184.8 1093.0,184.0 1094.9,181.9 1096.8,181.5 1098.8,180.4 1100.7,178.4 1102.6,177.6 1104.6,176.7 1106.6,175.8 1108.5,175.0 1110.4,173.8 1112.4,173.2 1114.4,172.5 1116.3,172.2 1118.2,171.1 1120.2,170.9 1122.2,170.1 1124.1,170.2 1126.0,169.7 1128.0,169.0 1129.8,170.0 1131.7,168.7 1133.6,169.7 1135.4,168.6 1137.2,169.2 1139.1,169.1 1140.9,169.1 1142.8,169.1 1144.6,169.9 1146.5,169.8 1148.4,170.0 1150.2,170.1 1152.2,169.8 1154.2,170.0 1156.1,170.2 1158.1,169.9 1160.1,170.1 1162.1,169.6 1164.0,169.9 1166.0,169.0 1168.0,169.2 1170.2,170.5 1172.4,170.7 1174.7,172.3 1176.9,173.4 1178.8,172.7 1180.6,173.3 1182.4,173.9 1184.3,173.6 1186.2,173.8 1188.0,174.9 1190.2,175.4 1192.4,176.9 1194.7,178.8 1196.9,179.8 1199.1,181.4 1201.4,182.6 1203.6,183.9 1205.8,184.0 1207.9,184.1 1210.0,183.7 1212.1,183.2 1214.2,181.9 1216.2,182.2 1218.3,181.1 1220.4,179.3 1222.5,179.5 1224.6,177.7 1226.6,176.2 1228.7,173.3 1230.8,171.7 1232.9,170.5 1234.9,169.0 1237.0,168.0 1238.8,169.2 1240.7,168.6 1242.6,170.5 1244.4,170.8 1246.2,171.6 1248.1,172.6 1250.0,172.7 1251.9,174.0 1253.8,174.0 1255.8,175.9 1257.7,176.0 1259.6,177.3 1261.5,179.5 1263.3,181.1 1265.2,185.5 1267.0,187.2 1268.9,184.3 1270.7,179.9 1272.6,177.1 1274.8,175.8 1277.0,174.6 1279.3,173.6 1281.5,174.6 1283.7,173.9 1286.0,173.8 1288.2,174.1 1290.4,173.5 1292.6,173.3 1294.9,172.3 1297.1,172.4 1298.9,172.9 1300.8,173.4 1302.6,175.3 1304.5,177.3 1306.4,178.4 1308.2,180.7 1310.0,180.6 1311.9,182.7 1313.8,182.9 1315.6,183.5 1317.4,183.9 1319.3,184.8 1321.5,183.9 1323.8,184.3 1326.0,184.8 1328.2,184.2 1330.2,184.8 1332.1,186.0 1334.0,187.4 1336.0,188.1 1338.0,186.7 1339.9,182.3 1341.8,179.8 1343.8,177.1 1345.9,175.7 1347.9,174.9 1350.0,174.1 1352.1,173.9 1354.2,172.7 1356.3,172.8 1358.4,171.8 1360.5,171.5 1362.6,171.2 1364.7,170.4 1366.7,171.2 1368.8,171.0 1370.8,171.0 1372.8,170.6 1374.9,171.9 1376.9,171.4 1379.0,171.8 1381.0,172.8 1383.1,172.6 1385.1,173.7 1387.2,175.3 1389.2,175.9 1391.1,176.3 1393.1,177.2 1395.0,178.2 1397.0,178.9 1398.9,179.4 1401.4,180.8 1403.8,181.2 1405.6,180.8 1407.5,181.4 1409.4,180.1 1411.2,180.4 1413.2,181.6 1415.3,183.1 1417.3,186.0 1419.3,188.4 1421.4,192.9 1423.4,195.0 1425.2,196.7 1427.1,196.2 1429.6,194.3 1432.0,190.6 1434.0,188.5 1436.1,186.9 1438.1,187.4 1440.1,187.4 1442.2,191.9 1444.2,194.8 1446.6,200.9 1449.1,208.7 1450.9,218.0 1452.8,230.9 1455.7,260.3 1457.3,278.5 1458.9,296.2 1461.3,321.4 1463.1,329.6 1465.5,329.3 1467.1,324.0 1468.7,316.9 1470.6,302.5 1472.4,287.3 1474.2,271.8 1476.0,257.5 1477.8,245.3 1479.7,236.0 1482.2,226.4 1484.6,218.3 1486.4,213.8 1488.3,210.5 1490.4,206.2 1492.6,203.8 1494.7,201.9 1496.8,198.3 1498.8,196.2 1500.9,194.6 1502.9,191.9 1505.0,190.2 1507.0,187.5 1509.1,185.2 1511.1,183.6 1513.2,180.8 1515.2,178.9 1517.2,176.2 1519.3,174.3 1521.3,173.9 1523.3,172.2 1525.2,170.2 1527.2,169.5 1529.1,169.6 1531.1,168.9 1533.1,168.7 1535.0,169.3 1537.0,169.1 1538.9,169.2 1540.9,169.4 1542.7,169.8 1544.6,169.9 1546.4,172.0 1548.2,171.5 1550.4,172.5 1552.5,171.9 1554.6,171.5 1556.8,171.4 1559.0,172.7 1561.1,174.6 1563.2,178.2 1565.4,181.0 1567.4,182.0 1569.5,184.9 1571.5,187.2 1573.5,188.5 1575.6,191.4 1577.6,194.4 1579.6,196.8 1581.5,199.9 1583.5,203.8 1585.4,207.4 1587.4,211.3 1589.2,215.4 1591.1,218.2 1592.9,222.4 1594.7,226.4 1596.6,228.7 1598.4,231.7 1600.2,234.5 1602.1,236.3 1603.9,239.8 1605.8,243.0 1607.6,246.2 1609.4,248.8 1611.4,251.9 1613.5,255.2 1615.5,255.9 1618.0,254.7 1620.4,252.7 1622.8,250.8 1625.3,249.5 1627.2,249.9 1629.0,253.2 1631.4,257.8 1633.9,263.8 1636.4,266.8 1638.8,268.8 1640.8,269.4 1642.9,270.6 1644.9,271.6 1647.4,277.0 1649.8,285.0 1652.2,293.7 1654.7,301.6 1656.5,303.8 1658.4,304.4 1660.2,306.5 1662.0,307.4 1664.4,314.1 1666.9,321.2 1668.9,324.8 1671.0,327.5 1673.0,329.8 1675.4,332.5 1677.9,333.7 1679.8,333.0 1681.6,332.6 1683.4,330.7 1685.3,330.0 1687.1,332.7 1688.9,336.5 1691.0,336.0 1693.0,336.7 1695.1,337.9 1697.5,332.5 1699.9,325.0 1702.4,318.6 1704.8,311.7 1707.2,301.3 1709.7,292.1 1711.6,287.8 1713.4,285.3 1715.2,282.2 1717.1,278.8 1718.9,273.9 1720.8,267.6 1722.6,262.0 1724.4,255.4 1726.4,247.6 1728.5,238.7 1730.5,228.4 1732.4,214.0 1734.2,198.4 1736.0,188.1 1737.9,181.7 1739.7,180.3 1741.5,179.8 1743.0,174.1 1744.5,170.3 1746.5,177.2 1748.5,167.0 1750.5,179.5 1752.5,169.0 1754.5,180.8 1756.5,169.1 1758.5,183.2 1760.5,171.6 1762.6,180.4"/>
<line class="d" x1="471.0" y1="47.4" x2="471.0" y2="1221"/>
<line class="d" x1="571.0" y1="47.4" x2="571.0" y2="1221"/>
<line class="d" x1="1462.6" y1="47.4" x2="1462.6" y2="1221"/>
<line class="d" x1="1693.0" y1="55.2" x2="1693.0" y2="1233.2"/>
<text class="lab" transform="translate(336.2,118.6) scale(1,1.123)">O-H</text>
<text class="lab" transform="translate(609.49,112.7) scale(1.006,1.114)">O-H</text>
<text class="lab" transform="translate(817.49,120.5) scale(1.01,1.111)">AlOOH-4</text>
<text class="lab" transform="translate(1258.9,109.7) scale(0.998,1.123)">Al-O-H</text>
<text class="lab" transform="translate(1553.89,109.7) scale(1.01,1.123)">Al-O</text>
<text class="lab" transform="translate(819.58,334.1) scale(1.018,1.094)">AlOOH-2</text>
<text class="lab" transform="translate(817.47,528.9) scale(1.025,1.106)">AlOOH-1</text>
<text class="lab" transform="translate(811.88,724.2) scale(1.016,1.103)">AlOOH-0.5</text>
<text class="lab" transform="translate(815.08,932.5) scale(1.019,1.061)">Al foil</text>
<text class="tick" transform="translate(90,1327.19) scale(0.982,1.008)">4000</text>
<text class="tick" transform="translate(310.52,1327.08) scale(0.977,1.017)">3500</text>
<text class="tick" transform="translate(532.32,1324.78) scale(0.982,1.017)">3000</text>
<text class="tick" transform="translate(752.92,1324.78) scale(0.992,1.017)">2500</text>
<text class="tick" transform="translate(974.91,1327.08) scale(0.995,1.017)">2000</text>
<text class="tick" transform="translate(1197.54,1324.78) scale(0.991,1.017)">1500</text>
<text class="tick" transform="translate(1419.65,1324.78) scale(0.988,1.017)">1000</text>
<text class="tick" transform="translate(1662.53,1330.09) scale(0.97,1.008)">500</text>
<g fill="#fff" transform="translate(1197.54,1324.78) scale(0.991,1.017)"><rect x="3.123" y="-7.22" width="12.067" height="8.105"/><rect x="23.466" y="-7.22" width="11.255" height="8.105"/></g>
<g fill="#fff" transform="translate(1419.65,1324.78) scale(0.988,1.017)"><rect x="3.121" y="-7.22" width="12.07" height="8.105"/><rect x="23.466" y="-7.22" width="11.257" height="8.105"/></g>
<g fill="#fff" transform="translate(817.47,528.9) scale(1.025,1.106)"><rect x="182.814" y="-5.736" width="9.349" height="6.55"/><rect x="199.121" y="-5.736" width="8.715" height="6.55"/></g>
<text class="ttl" transform="translate(688.0,1468.7) scale(1.0,1.0)"><tspan x="0" textLength="376.35" lengthAdjust="spacingAndGlyphs">Wavelength</tspan> <tspan x="395.6" textLength="116.9" lengthAdjust="spacingAndGlyphs">(cm</tspan><tspan x="512.6" dy="-22.1" font-size="47">−</tspan><tspan x="540.2" font-size="47">1</tspan><tspan x="563" dy="22.1">)</tspan></text>
<text class="ttl" transform="translate(83.6,994.2) rotate(-90) scale(1.0,1.0)"><tspan x="0" textLength="451.4" lengthAdjust="spacingAndGlyphs">Transmittance</tspan> <tspan x="473.6" textLength="161.1" lengthAdjust="spacingAndGlyphs">(a.u.)</tspan></text>
<g fill="#fff" transform="translate(688,1468.7) scale(1,1)"><rect x="542.26" y="-27.596" width="9.109" height="6.396"/><rect x="557.418" y="-27.596" width="8.513" height="6.396"/></g>
</svg>
</body>
</html>
